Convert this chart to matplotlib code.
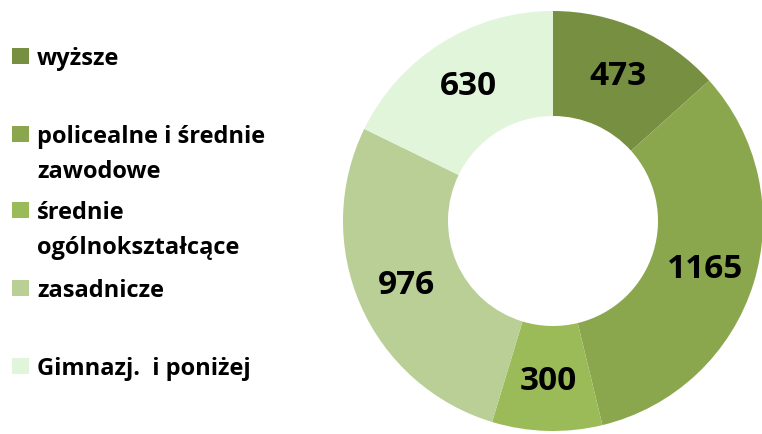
import matplotlib
matplotlib.use("Agg")
import matplotlib.pyplot as plt
from matplotlib.patches import Rectangle

categories = ["wyższe", "policealne i średnie\nzawodowe", "średnie\nogólnokształcące",
              "zasadnicze", "Gimnazj.  i poniżej"]
values = [473, 1165, 300, 976, 630]
colors = ["#778F41", "#8AA74E", "#9BBB59", "#B9CF96", "#E1F5DA"]

W, H = 762, 435
fig = plt.figure(figsize=(W / 100, H / 100), dpi=100)
ax = fig.add_axes([0, 0, 1, 1])

font = "Open Sans"

wedges, texts, autotexts = ax.pie(
    values, colors=colors, startangle=90, counterclock=False,
    center=(553, H - 222), radius=210,
    wedgeprops=dict(width=105, edgecolor="none"),
    autopct=lambda p: f"{round(p * sum(values) / 100):d}",
    pctdistance=0.76,
    textprops=dict(fontsize=24, fontweight="bold", family=font, color="black"),
    frame=True,
)
ax.set_xlim(0, W)
ax.set_ylim(0, H)
ax.set_aspect("equal")
ax.axis("off")

# legend drawn manually
baselines = [65, 143, 219, 297, 375]
line_gap = 35
for lab, col, b in zip(categories, colors, baselines):
    ax.add_patch(Rectangle((12, H - b), 17, 16, facecolor=col, edgecolor="none"))
    for i, line in enumerate(lab.split("\n")):
        ax.text(37, H - b - i * line_gap, line, fontsize=17, fontweight="bold",
                family=font, va="baseline", ha="left", color="black")

fig.savefig("out.png", dpi=100)
